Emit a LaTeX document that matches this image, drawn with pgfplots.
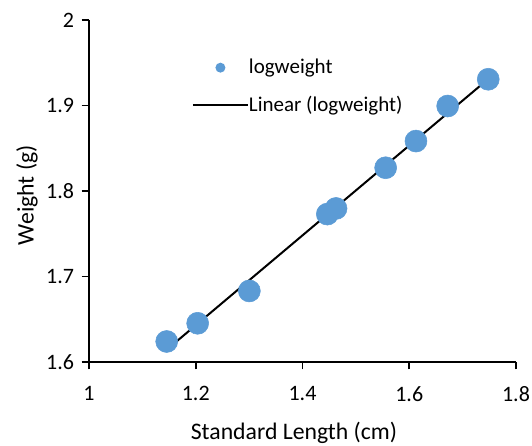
\documentclass[border=0pt]{standalone}
\usepackage{pgfplots}
\pgfplotsset{compat=1.18}
\usepackage{fontspec}
\setmainfont{Carlito}
\definecolor{xlblue}{RGB}{91,155,213}
\begin{document}
\begin{tikzpicture}
\begin{axis}[
    scale only axis, width=320.25pt, height=256.5pt,
    xmin=1, xmax=1.8, ymin=1.6, ymax=2,
    xtick={1,1.2,...,1.8}, ytick={1.6,1.7,...,2},
    axis x line*=bottom, axis y line*=left,
    axis line style={line width=1.4pt, -},
    tick style={line width=1.4pt, black},
    tick align=outside, major tick length=5.5pt,
    /pgf/number format/assume math mode=true,
    tick label style={font=\fontsize{16.5}{18}\selectfont},
    xticklabel shift=9.5pt,
    yticklabel shift=2.25pt,
    xlabel={Standard Length (cm)}, ylabel={Weight (g)},
    label style={font=\fontsize{17.8}{20}\selectfont},
    xlabel style={at={(rel axis cs:0.48,-0.207)}, anchor=center},
    ylabel style={at={(rel axis cs:-0.145,0.488)}, anchor=center},
    legend style={draw=none, fill=none, at={(0.2405,0.806)}, anchor=west,
        font=\fontsize{15.75}{18}\selectfont, row sep=15pt, inner sep=0pt,
        nodes={inner sep=0pt}},
    legend cell align=left,
]
\addplot[only marks, mark=*, mark size=8.25pt, color=xlblue,
    legend image code/.code={\path[draw=none] (0pt,0pt) -- (41.25pt,0pt);
        \fill[xlblue, draw=none] (20.6pt,0pt) circle (3.75pt);}]
    coordinates {
    (1.1456,1.6240) (1.2036,1.6453) (1.3004,1.6831)
    (1.4465,1.7730) (1.4628,1.7796) (1.5558,1.8272)
    (1.6126,1.8584) (1.6720,1.8994) (1.7480,1.9307)
    };
\addlegendentry{logweight}
\addplot[black, line width=1.5pt,
    legend image code/.code={\draw[black, line width=1.5pt] (0pt,0pt) -- (41.25pt,0pt);}]
    coordinates {(1.1456,1.6144) (1.7480,1.9310)};
\addlegendentry{Linear (logweight)}
\end{axis}
\pgfresetboundingbox
\path ([xshift=-66.75pt, yshift=-62.25pt]current axis.south west)
    rectangle ([xshift=12pt, yshift=15pt]current axis.north east);
\end{tikzpicture}
\end{document}
